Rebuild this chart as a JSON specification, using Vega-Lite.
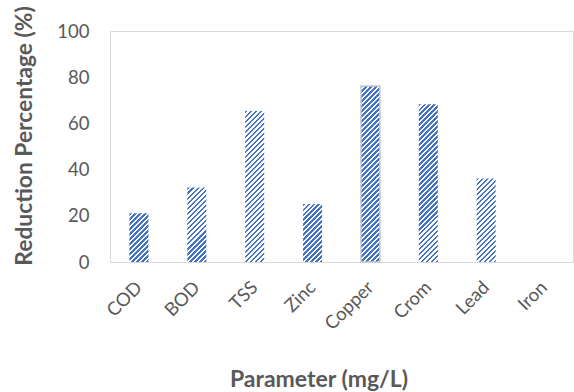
{
  "$schema": "https://vega.github.io/schema/vega-lite/v6.json",
  "autosize": {"type": "none"},
  "padding": {"left": 110, "top": 31, "right": 1, "bottom": 130},
  "width": 463,
  "height": 231,
  "background": "#ffffff",
  "config": {
    "view": {"stroke": "#d9d9d9", "strokeWidth": 1},
    "axis": {"labelFont": "Lato", "titleFont": "Lato", "labelColor": "#595959", "titleColor": "#595959", "grid": false, "domain": false, "ticks": false}
  },
  "data": {
    "values": [
      {"Parameter": "COD", "Reduction": 21.1},
      {"Parameter": "BOD", "Reduction": 32.2},
      {"Parameter": "TSS", "Reduction": 65.4},
      {"Parameter": "Zinc", "Reduction": 25.1},
      {"Parameter": "Copper", "Reduction": 76.2},
      {"Parameter": "Crom", "Reduction": 68.3},
      {"Parameter": "Lead", "Reduction": 36.2},
      {"Parameter": "Iron", "Reduction": 0}
    ]
  },
  "mark": {"type": "bar", "size": 19, "strokeWidth": 1.5},
  "encoding": {
    "x": {
      "field": "Parameter", "type": "nominal", "sort": null,
      "scale": {"paddingInner": 0, "paddingOuter": 0},
      "axis": {"title": "Parameter (mg/L)", "labelAngle": -45, "labelAlign": "right", "labelBaseline": "middle", "labelPadding": 22, "labelFontSize": 18.5, "titleFontSize": 23, "titleFontWeight": "bold", "titleX": 208.5, "titleY": 124, "titleBaseline": "alphabetic", "titleAlign": "center"}
    },
    "y": {
      "field": "Reduction", "type": "quantitative",
      "scale": {"domain": [0, 100], "nice": false},
      "axis": {"title": "Reduction Percentage (%)", "values": [0, 20, 40, 60, 80, 100], "labelPadding": 21, "labelFontSize": 18.5, "titleFontSize": 22.8, "titleFontWeight": "bold", "titleAngle": -90, "titleX": -79, "titleY": 104.5, "titleAlign": "center", "titleBaseline": "alphabetic"}
    },
    "stroke": {"condition": {"test": "datum.Parameter === 'Copper'", "value": "#c9c9c9"}, "value": null},
    "fill": {
      "condition": [
        {"test": "datum.Parameter === 'COD'", "value": {"gradient": "linear", "x1": 0, "y1": 0, "x2": 0.4727, "y2": 1.2067, "stops": [
          {"offset":0,"color":"#4472c4"},
          {"offset":0.037,"color":"#4472c4"},{"offset":0.037,"color":"#fff"},
          {"offset":0.0741,"color":"#fff"},{"offset":0.0741,"color":"#4472c4"},
          {"offset":0.1111,"color":"#4472c4"},{"offset":0.1111,"color":"#fff"},
          {"offset":0.1481,"color":"#fff"},{"offset":0.1481,"color":"#4472c4"},
          {"offset":0.1852,"color":"#4472c4"},{"offset":0.1852,"color":"#fff"},
          {"offset":0.2222,"color":"#fff"},{"offset":0.2222,"color":"#4472c4"},
          {"offset":0.2593,"color":"#4472c4"},{"offset":0.2593,"color":"#fff"},
          {"offset":0.2963,"color":"#fff"},{"offset":0.2963,"color":"#4472c4"},
          {"offset":0.3333,"color":"#4472c4"},{"offset":0.3333,"color":"#fff"},
          {"offset":0.3704,"color":"#fff"},{"offset":0.3704,"color":"#4472c4"},
          {"offset":0.4074,"color":"#4472c4"},{"offset":0.4074,"color":"#fff"},
          {"offset":0.4444,"color":"#fff"},{"offset":0.4444,"color":"#4472c4"},
          {"offset":0.4815,"color":"#4472c4"},{"offset":0.4815,"color":"#fff"},
          {"offset":0.5185,"color":"#fff"},{"offset":0.5185,"color":"#4472c4"},
          {"offset":0.5556,"color":"#4472c4"},{"offset":0.5556,"color":"#fff"},
          {"offset":0.5926,"color":"#fff"},{"offset":0.5926,"color":"#4472c4"},
          {"offset":0.6296,"color":"#4472c4"},{"offset":0.6296,"color":"#fff"},
          {"offset":0.6667,"color":"#fff"},{"offset":0.6667,"color":"#4472c4"},
          {"offset":0.7037,"color":"#4472c4"},{"offset":0.7037,"color":"#fff"},
          {"offset":0.7407,"color":"#fff"},{"offset":0.7407,"color":"#4472c4"},
          {"offset":0.7778,"color":"#4472c4"},{"offset":0.7778,"color":"#fff"},
          {"offset":0.8148,"color":"#fff"},{"offset":0.8148,"color":"#4472c4"},
          {"offset":0.8519,"color":"#4472c4"},{"offset":0.8519,"color":"#fff"},
          {"offset":0.8889,"color":"#fff"},{"offset":0.8889,"color":"#4472c4"},
          {"offset":0.9259,"color":"#4472c4"},{"offset":0.9259,"color":"#fff"},
          {"offset":0.963,"color":"#fff"},{"offset":0.963,"color":"#4472c4"},
          {"offset":1,"color":"#4472c4"}
        ]}},
        {"test": "datum.Parameter === 'BOD'", "value": {"gradient": "linear", "x1": 0, "y1": 0, "x2": 0.301, "y2": 1.1786, "stops": [
          {"offset":0,"color":"#4472c4"},
          {"offset":0.027,"color":"#4472c4"},{"offset":0.027,"color":"#fff"},
          {"offset":0.0541,"color":"#fff"},{"offset":0.0541,"color":"#4472c4"},
          {"offset":0.0811,"color":"#4472c4"},{"offset":0.0811,"color":"#fff"},
          {"offset":0.1081,"color":"#fff"},{"offset":0.1081,"color":"#4472c4"},
          {"offset":0.1351,"color":"#4472c4"},{"offset":0.1351,"color":"#fff"},
          {"offset":0.1622,"color":"#fff"},{"offset":0.1622,"color":"#4472c4"},
          {"offset":0.1892,"color":"#4472c4"},{"offset":0.1892,"color":"#fff"},
          {"offset":0.2162,"color":"#fff"},{"offset":0.2162,"color":"#4472c4"},
          {"offset":0.2432,"color":"#4472c4"},{"offset":0.2432,"color":"#fff"},
          {"offset":0.2703,"color":"#fff"},{"offset":0.2703,"color":"#4472c4"},
          {"offset":0.2973,"color":"#4472c4"},{"offset":0.2973,"color":"#fff"},
          {"offset":0.3243,"color":"#fff"},{"offset":0.3243,"color":"#4472c4"},
          {"offset":0.3514,"color":"#4472c4"},{"offset":0.3514,"color":"#fff"},
          {"offset":0.3784,"color":"#fff"},{"offset":0.3784,"color":"#4472c4"},
          {"offset":0.4054,"color":"#4472c4"},{"offset":0.4054,"color":"#fff"},
          {"offset":0.4324,"color":"#fff"},{"offset":0.4324,"color":"#4472c4"},
          {"offset":0.4595,"color":"#4472c4"},{"offset":0.4595,"color":"#fff"},
          {"offset":0.4865,"color":"#fff"},{"offset":0.4865,"color":"#4472c4"},
          {"offset":0.5135,"color":"#4472c4"},{"offset":0.5135,"color":"#fff"},
          {"offset":0.5405,"color":"#fff"},{"offset":0.5405,"color":"#4472c4"},
          {"offset":0.5676,"color":"#4472c4"},{"offset":0.5676,"color":"#fff"},
          {"offset":0.5946,"color":"#fff"},{"offset":0.5946,"color":"#4472c4"},
          {"offset":0.6216,"color":"#4472c4"},{"offset":0.6216,"color":"#fff"},
          {"offset":0.6486,"color":"#fff"},{"offset":0.6486,"color":"#4472c4"},
          {"offset":0.6757,"color":"#4472c4"},{"offset":0.6757,"color":"#fff"},
          {"offset":0.7027,"color":"#fff"},{"offset":0.7027,"color":"#4472c4"},
          {"offset":0.7297,"color":"#4472c4"},{"offset":0.7297,"color":"#fff"},
          {"offset":0.7568,"color":"#fff"},{"offset":0.7568,"color":"#4472c4"},
          {"offset":0.7838,"color":"#4472c4"},{"offset":0.7838,"color":"#fff"},
          {"offset":0.8108,"color":"#fff"},{"offset":0.8108,"color":"#4472c4"},
          {"offset":0.8378,"color":"#4472c4"},{"offset":0.8378,"color":"#fff"},
          {"offset":0.8649,"color":"#fff"},{"offset":0.8649,"color":"#4472c4"},
          {"offset":0.8919,"color":"#4472c4"},{"offset":0.8919,"color":"#fff"},
          {"offset":0.9189,"color":"#fff"},{"offset":0.9189,"color":"#4472c4"},
          {"offset":0.9459,"color":"#4472c4"},{"offset":0.9459,"color":"#fff"},
          {"offset":0.973,"color":"#fff"},{"offset":0.973,"color":"#4472c4"},
          {"offset":1,"color":"#4472c4"}
        ]}},
        {"test": "datum.Parameter === 'TSS'", "value": {"gradient": "linear", "x1": 0, "y1": 0, "x2": 0.1394, "y2": 1.1082, "stops": [
          {"offset":0,"color":"#4472c4"},
          {"offset":0.0147,"color":"#4472c4"},{"offset":0.0147,"color":"#fff"},
          {"offset":0.0294,"color":"#fff"},{"offset":0.0294,"color":"#4472c4"},
          {"offset":0.0441,"color":"#4472c4"},{"offset":0.0441,"color":"#fff"},
          {"offset":0.0588,"color":"#fff"},{"offset":0.0588,"color":"#4472c4"},
          {"offset":0.0735,"color":"#4472c4"},{"offset":0.0735,"color":"#fff"},
          {"offset":0.0882,"color":"#fff"},{"offset":0.0882,"color":"#4472c4"},
          {"offset":0.1029,"color":"#4472c4"},{"offset":0.1029,"color":"#fff"},
          {"offset":0.1176,"color":"#fff"},{"offset":0.1176,"color":"#4472c4"},
          {"offset":0.1324,"color":"#4472c4"},{"offset":0.1324,"color":"#fff"},
          {"offset":0.1471,"color":"#fff"},{"offset":0.1471,"color":"#4472c4"},
          {"offset":0.1618,"color":"#4472c4"},{"offset":0.1618,"color":"#fff"},
          {"offset":0.1765,"color":"#fff"},{"offset":0.1765,"color":"#4472c4"},
          {"offset":0.1912,"color":"#4472c4"},{"offset":0.1912,"color":"#fff"},
          {"offset":0.2059,"color":"#fff"},{"offset":0.2059,"color":"#4472c4"},
          {"offset":0.2206,"color":"#4472c4"},{"offset":0.2206,"color":"#fff"},
          {"offset":0.2353,"color":"#fff"},{"offset":0.2353,"color":"#4472c4"},
          {"offset":0.25,"color":"#4472c4"},{"offset":0.25,"color":"#fff"},
          {"offset":0.2647,"color":"#fff"},{"offset":0.2647,"color":"#4472c4"},
          {"offset":0.2794,"color":"#4472c4"},{"offset":0.2794,"color":"#fff"},
          {"offset":0.2941,"color":"#fff"},{"offset":0.2941,"color":"#4472c4"},
          {"offset":0.3088,"color":"#4472c4"},{"offset":0.3088,"color":"#fff"},
          {"offset":0.3235,"color":"#fff"},{"offset":0.3235,"color":"#4472c4"},
          {"offset":0.3382,"color":"#4472c4"},{"offset":0.3382,"color":"#fff"},
          {"offset":0.3529,"color":"#fff"},{"offset":0.3529,"color":"#4472c4"},
          {"offset":0.3676,"color":"#4472c4"},{"offset":0.3676,"color":"#fff"},
          {"offset":0.3824,"color":"#fff"},{"offset":0.3824,"color":"#4472c4"},
          {"offset":0.3971,"color":"#4472c4"},{"offset":0.3971,"color":"#fff"},
          {"offset":0.4118,"color":"#fff"},{"offset":0.4118,"color":"#4472c4"},
          {"offset":0.4265,"color":"#4472c4"},{"offset":0.4265,"color":"#fff"},
          {"offset":0.4412,"color":"#fff"},{"offset":0.4412,"color":"#4472c4"},
          {"offset":0.4559,"color":"#4472c4"},{"offset":0.4559,"color":"#fff"},
          {"offset":0.4706,"color":"#fff"},{"offset":0.4706,"color":"#4472c4"},
          {"offset":0.4853,"color":"#4472c4"},{"offset":0.4853,"color":"#fff"},
          {"offset":0.5,"color":"#fff"},{"offset":0.5,"color":"#4472c4"},
          {"offset":0.5147,"color":"#4472c4"},{"offset":0.5147,"color":"#fff"},
          {"offset":0.5294,"color":"#fff"},{"offset":0.5294,"color":"#4472c4"},
          {"offset":0.5441,"color":"#4472c4"},{"offset":0.5441,"color":"#fff"},
          {"offset":0.5588,"color":"#fff"},{"offset":0.5588,"color":"#4472c4"},
          {"offset":0.5735,"color":"#4472c4"},{"offset":0.5735,"color":"#fff"},
          {"offset":0.5882,"color":"#fff"},{"offset":0.5882,"color":"#4472c4"},
          {"offset":0.6029,"color":"#4472c4"},{"offset":0.6029,"color":"#fff"},
          {"offset":0.6176,"color":"#fff"},{"offset":0.6176,"color":"#4472c4"},
          {"offset":0.6324,"color":"#4472c4"},{"offset":0.6324,"color":"#fff"},
          {"offset":0.6471,"color":"#fff"},{"offset":0.6471,"color":"#4472c4"},
          {"offset":0.6618,"color":"#4472c4"},{"offset":0.6618,"color":"#fff"},
          {"offset":0.6765,"color":"#fff"},{"offset":0.6765,"color":"#4472c4"},
          {"offset":0.6912,"color":"#4472c4"},{"offset":0.6912,"color":"#fff"},
          {"offset":0.7059,"color":"#fff"},{"offset":0.7059,"color":"#4472c4"},
          {"offset":0.7206,"color":"#4472c4"},{"offset":0.7206,"color":"#fff"},
          {"offset":0.7353,"color":"#fff"},{"offset":0.7353,"color":"#4472c4"},
          {"offset":0.75,"color":"#4472c4"},{"offset":0.75,"color":"#fff"},
          {"offset":0.7647,"color":"#fff"},{"offset":0.7647,"color":"#4472c4"},
          {"offset":0.7794,"color":"#4472c4"},{"offset":0.7794,"color":"#fff"},
          {"offset":0.7941,"color":"#fff"},{"offset":0.7941,"color":"#4472c4"},
          {"offset":0.8088,"color":"#4472c4"},{"offset":0.8088,"color":"#fff"},
          {"offset":0.8235,"color":"#fff"},{"offset":0.8235,"color":"#4472c4"},
          {"offset":0.8382,"color":"#4472c4"},{"offset":0.8382,"color":"#fff"},
          {"offset":0.8529,"color":"#fff"},{"offset":0.8529,"color":"#4472c4"},
          {"offset":0.8676,"color":"#4472c4"},{"offset":0.8676,"color":"#fff"},
          {"offset":0.8824,"color":"#fff"},{"offset":0.8824,"color":"#4472c4"},
          {"offset":0.8971,"color":"#4472c4"},{"offset":0.8971,"color":"#fff"},
          {"offset":0.9118,"color":"#fff"},{"offset":0.9118,"color":"#4472c4"},
          {"offset":0.9265,"color":"#4472c4"},{"offset":0.9265,"color":"#fff"},
          {"offset":0.9412,"color":"#fff"},{"offset":0.9412,"color":"#4472c4"},
          {"offset":0.9559,"color":"#4472c4"},{"offset":0.9559,"color":"#fff"},
          {"offset":0.9706,"color":"#fff"},{"offset":0.9706,"color":"#4472c4"},
          {"offset":0.9853,"color":"#4472c4"},{"offset":0.9853,"color":"#fff"},
          {"offset":1,"color":"#fff"}
        ]}},
        {"test": "datum.Parameter === 'Zinc'", "value": {"gradient": "linear", "x1": 0, "y1": 0, "x2": 0.3928, "y2": 1.1989, "stops": [
          {"offset":0,"color":"#4472c4"},
          {"offset":0.0323,"color":"#4472c4"},{"offset":0.0323,"color":"#fff"},
          {"offset":0.0645,"color":"#fff"},{"offset":0.0645,"color":"#4472c4"},
          {"offset":0.0968,"color":"#4472c4"},{"offset":0.0968,"color":"#fff"},
          {"offset":0.129,"color":"#fff"},{"offset":0.129,"color":"#4472c4"},
          {"offset":0.1613,"color":"#4472c4"},{"offset":0.1613,"color":"#fff"},
          {"offset":0.1935,"color":"#fff"},{"offset":0.1935,"color":"#4472c4"},
          {"offset":0.2258,"color":"#4472c4"},{"offset":0.2258,"color":"#fff"},
          {"offset":0.2581,"color":"#fff"},{"offset":0.2581,"color":"#4472c4"},
          {"offset":0.2903,"color":"#4472c4"},{"offset":0.2903,"color":"#fff"},
          {"offset":0.3226,"color":"#fff"},{"offset":0.3226,"color":"#4472c4"},
          {"offset":0.3548,"color":"#4472c4"},{"offset":0.3548,"color":"#fff"},
          {"offset":0.3871,"color":"#fff"},{"offset":0.3871,"color":"#4472c4"},
          {"offset":0.4194,"color":"#4472c4"},{"offset":0.4194,"color":"#fff"},
          {"offset":0.4516,"color":"#fff"},{"offset":0.4516,"color":"#4472c4"},
          {"offset":0.4839,"color":"#4472c4"},{"offset":0.4839,"color":"#fff"},
          {"offset":0.5161,"color":"#fff"},{"offset":0.5161,"color":"#4472c4"},
          {"offset":0.5484,"color":"#4472c4"},{"offset":0.5484,"color":"#fff"},
          {"offset":0.5806,"color":"#fff"},{"offset":0.5806,"color":"#4472c4"},
          {"offset":0.6129,"color":"#4472c4"},{"offset":0.6129,"color":"#fff"},
          {"offset":0.6452,"color":"#fff"},{"offset":0.6452,"color":"#4472c4"},
          {"offset":0.6774,"color":"#4472c4"},{"offset":0.6774,"color":"#fff"},
          {"offset":0.7097,"color":"#fff"},{"offset":0.7097,"color":"#4472c4"},
          {"offset":0.7419,"color":"#4472c4"},{"offset":0.7419,"color":"#fff"},
          {"offset":0.7742,"color":"#fff"},{"offset":0.7742,"color":"#4472c4"},
          {"offset":0.8065,"color":"#4472c4"},{"offset":0.8065,"color":"#fff"},
          {"offset":0.8387,"color":"#fff"},{"offset":0.8387,"color":"#4472c4"},
          {"offset":0.871,"color":"#4472c4"},{"offset":0.871,"color":"#fff"},
          {"offset":0.9032,"color":"#fff"},{"offset":0.9032,"color":"#4472c4"},
          {"offset":0.9355,"color":"#4472c4"},{"offset":0.9355,"color":"#fff"},
          {"offset":0.9677,"color":"#fff"},{"offset":0.9677,"color":"#4472c4"},
          {"offset":1,"color":"#4472c4"}
        ]}},
        {"test": "datum.Parameter === 'Copper'", "value": {"gradient": "linear", "x1": 0, "y1": 0, "x2": 0.1182, "y2": 1.0952, "stops": [
          {"offset":0,"color":"#4472c4"},
          {"offset":0.0128,"color":"#4472c4"},{"offset":0.0128,"color":"#fff"},
          {"offset":0.0256,"color":"#fff"},{"offset":0.0256,"color":"#4472c4"},
          {"offset":0.0385,"color":"#4472c4"},{"offset":0.0385,"color":"#fff"},
          {"offset":0.0513,"color":"#fff"},{"offset":0.0513,"color":"#4472c4"},
          {"offset":0.0641,"color":"#4472c4"},{"offset":0.0641,"color":"#fff"},
          {"offset":0.0769,"color":"#fff"},{"offset":0.0769,"color":"#4472c4"},
          {"offset":0.0897,"color":"#4472c4"},{"offset":0.0897,"color":"#fff"},
          {"offset":0.1026,"color":"#fff"},{"offset":0.1026,"color":"#4472c4"},
          {"offset":0.1154,"color":"#4472c4"},{"offset":0.1154,"color":"#fff"},
          {"offset":0.1282,"color":"#fff"},{"offset":0.1282,"color":"#4472c4"},
          {"offset":0.141,"color":"#4472c4"},{"offset":0.141,"color":"#fff"},
          {"offset":0.1538,"color":"#fff"},{"offset":0.1538,"color":"#4472c4"},
          {"offset":0.1667,"color":"#4472c4"},{"offset":0.1667,"color":"#fff"},
          {"offset":0.1795,"color":"#fff"},{"offset":0.1795,"color":"#4472c4"},
          {"offset":0.1923,"color":"#4472c4"},{"offset":0.1923,"color":"#fff"},
          {"offset":0.2051,"color":"#fff"},{"offset":0.2051,"color":"#4472c4"},
          {"offset":0.2179,"color":"#4472c4"},{"offset":0.2179,"color":"#fff"},
          {"offset":0.2308,"color":"#fff"},{"offset":0.2308,"color":"#4472c4"},
          {"offset":0.2436,"color":"#4472c4"},{"offset":0.2436,"color":"#fff"},
          {"offset":0.2564,"color":"#fff"},{"offset":0.2564,"color":"#4472c4"},
          {"offset":0.2692,"color":"#4472c4"},{"offset":0.2692,"color":"#fff"},
          {"offset":0.2821,"color":"#fff"},{"offset":0.2821,"color":"#4472c4"},
          {"offset":0.2949,"color":"#4472c4"},{"offset":0.2949,"color":"#fff"},
          {"offset":0.3077,"color":"#fff"},{"offset":0.3077,"color":"#4472c4"},
          {"offset":0.3205,"color":"#4472c4"},{"offset":0.3205,"color":"#fff"},
          {"offset":0.3333,"color":"#fff"},{"offset":0.3333,"color":"#4472c4"},
          {"offset":0.3462,"color":"#4472c4"},{"offset":0.3462,"color":"#fff"},
          {"offset":0.359,"color":"#fff"},{"offset":0.359,"color":"#4472c4"},
          {"offset":0.3718,"color":"#4472c4"},{"offset":0.3718,"color":"#fff"},
          {"offset":0.3846,"color":"#fff"},{"offset":0.3846,"color":"#4472c4"},
          {"offset":0.3974,"color":"#4472c4"},{"offset":0.3974,"color":"#fff"},
          {"offset":0.4103,"color":"#fff"},{"offset":0.4103,"color":"#4472c4"},
          {"offset":0.4231,"color":"#4472c4"},{"offset":0.4231,"color":"#fff"},
          {"offset":0.4359,"color":"#fff"},{"offset":0.4359,"color":"#4472c4"},
          {"offset":0.4487,"color":"#4472c4"},{"offset":0.4487,"color":"#fff"},
          {"offset":0.4615,"color":"#fff"},{"offset":0.4615,"color":"#4472c4"},
          {"offset":0.4744,"color":"#4472c4"},{"offset":0.4744,"color":"#fff"},
          {"offset":0.4872,"color":"#fff"},{"offset":0.4872,"color":"#4472c4"},
          {"offset":0.5,"color":"#4472c4"},{"offset":0.5,"color":"#fff"},
          {"offset":0.5128,"color":"#fff"},{"offset":0.5128,"color":"#4472c4"},
          {"offset":0.5256,"color":"#4472c4"},{"offset":0.5256,"color":"#fff"},
          {"offset":0.5385,"color":"#fff"},{"offset":0.5385,"color":"#4472c4"},
          {"offset":0.5513,"color":"#4472c4"},{"offset":0.5513,"color":"#fff"},
          {"offset":0.5641,"color":"#fff"},{"offset":0.5641,"color":"#4472c4"},
          {"offset":0.5769,"color":"#4472c4"},{"offset":0.5769,"color":"#fff"},
          {"offset":0.5897,"color":"#fff"},{"offset":0.5897,"color":"#4472c4"},
          {"offset":0.6026,"color":"#4472c4"},{"offset":0.6026,"color":"#fff"},
          {"offset":0.6154,"color":"#fff"},{"offset":0.6154,"color":"#4472c4"},
          {"offset":0.6282,"color":"#4472c4"},{"offset":0.6282,"color":"#fff"},
          {"offset":0.641,"color":"#fff"},{"offset":0.641,"color":"#4472c4"},
          {"offset":0.6538,"color":"#4472c4"},{"offset":0.6538,"color":"#fff"},
          {"offset":0.6667,"color":"#fff"},{"offset":0.6667,"color":"#4472c4"},
          {"offset":0.6795,"color":"#4472c4"},{"offset":0.6795,"color":"#fff"},
          {"offset":0.6923,"color":"#fff"},{"offset":0.6923,"color":"#4472c4"},
          {"offset":0.7051,"color":"#4472c4"},{"offset":0.7051,"color":"#fff"},
          {"offset":0.7179,"color":"#fff"},{"offset":0.7179,"color":"#4472c4"},
          {"offset":0.7308,"color":"#4472c4"},{"offset":0.7308,"color":"#fff"},
          {"offset":0.7436,"color":"#fff"},{"offset":0.7436,"color":"#4472c4"},
          {"offset":0.7564,"color":"#4472c4"},{"offset":0.7564,"color":"#fff"},
          {"offset":0.7692,"color":"#fff"},{"offset":0.7692,"color":"#4472c4"},
          {"offset":0.7821,"color":"#4472c4"},{"offset":0.7821,"color":"#fff"},
          {"offset":0.7949,"color":"#fff"},{"offset":0.7949,"color":"#4472c4"},
          {"offset":0.8077,"color":"#4472c4"},{"offset":0.8077,"color":"#fff"},
          {"offset":0.8205,"color":"#fff"},{"offset":0.8205,"color":"#4472c4"},
          {"offset":0.8333,"color":"#4472c4"},{"offset":0.8333,"color":"#fff"},
          {"offset":0.8462,"color":"#fff"},{"offset":0.8462,"color":"#4472c4"},
          {"offset":0.859,"color":"#4472c4"},{"offset":0.859,"color":"#fff"},
          {"offset":0.8718,"color":"#fff"},{"offset":0.8718,"color":"#4472c4"},
          {"offset":0.8846,"color":"#4472c4"},{"offset":0.8846,"color":"#fff"},
          {"offset":0.8974,"color":"#fff"},{"offset":0.8974,"color":"#4472c4"},
          {"offset":0.9103,"color":"#4472c4"},{"offset":0.9103,"color":"#fff"},
          {"offset":0.9231,"color":"#fff"},{"offset":0.9231,"color":"#4472c4"},
          {"offset":0.9359,"color":"#4472c4"},{"offset":0.9359,"color":"#fff"},
          {"offset":0.9487,"color":"#fff"},{"offset":0.9487,"color":"#4472c4"},
          {"offset":0.9615,"color":"#4472c4"},{"offset":0.9615,"color":"#fff"},
          {"offset":0.9744,"color":"#fff"},{"offset":0.9744,"color":"#4472c4"},
          {"offset":0.9872,"color":"#4472c4"},{"offset":0.9872,"color":"#fff"},
          {"offset":1,"color":"#fff"}
        ]}},
        {"test": "datum.Parameter === 'Crom'", "value": {"gradient": "linear", "x1": 0, "y1": 0, "x2": 0.133, "y2": 1.1044, "stops": [
          {"offset":0,"color":"#4472c4"},
          {"offset":0.0141,"color":"#4472c4"},{"offset":0.0141,"color":"#fff"},
          {"offset":0.0282,"color":"#fff"},{"offset":0.0282,"color":"#4472c4"},
          {"offset":0.0423,"color":"#4472c4"},{"offset":0.0423,"color":"#fff"},
          {"offset":0.0563,"color":"#fff"},{"offset":0.0563,"color":"#4472c4"},
          {"offset":0.0704,"color":"#4472c4"},{"offset":0.0704,"color":"#fff"},
          {"offset":0.0845,"color":"#fff"},{"offset":0.0845,"color":"#4472c4"},
          {"offset":0.0986,"color":"#4472c4"},{"offset":0.0986,"color":"#fff"},
          {"offset":0.1127,"color":"#fff"},{"offset":0.1127,"color":"#4472c4"},
          {"offset":0.1268,"color":"#4472c4"},{"offset":0.1268,"color":"#fff"},
          {"offset":0.1408,"color":"#fff"},{"offset":0.1408,"color":"#4472c4"},
          {"offset":0.1549,"color":"#4472c4"},{"offset":0.1549,"color":"#fff"},
          {"offset":0.169,"color":"#fff"},{"offset":0.169,"color":"#4472c4"},
          {"offset":0.1831,"color":"#4472c4"},{"offset":0.1831,"color":"#fff"},
          {"offset":0.1972,"color":"#fff"},{"offset":0.1972,"color":"#4472c4"},
          {"offset":0.2113,"color":"#4472c4"},{"offset":0.2113,"color":"#fff"},
          {"offset":0.2254,"color":"#fff"},{"offset":0.2254,"color":"#4472c4"},
          {"offset":0.2394,"color":"#4472c4"},{"offset":0.2394,"color":"#fff"},
          {"offset":0.2535,"color":"#fff"},{"offset":0.2535,"color":"#4472c4"},
          {"offset":0.2676,"color":"#4472c4"},{"offset":0.2676,"color":"#fff"},
          {"offset":0.2817,"color":"#fff"},{"offset":0.2817,"color":"#4472c4"},
          {"offset":0.2958,"color":"#4472c4"},{"offset":0.2958,"color":"#fff"},
          {"offset":0.3099,"color":"#fff"},{"offset":0.3099,"color":"#4472c4"},
          {"offset":0.3239,"color":"#4472c4"},{"offset":0.3239,"color":"#fff"},
          {"offset":0.338,"color":"#fff"},{"offset":0.338,"color":"#4472c4"},
          {"offset":0.3521,"color":"#4472c4"},{"offset":0.3521,"color":"#fff"},
          {"offset":0.3662,"color":"#fff"},{"offset":0.3662,"color":"#4472c4"},
          {"offset":0.3803,"color":"#4472c4"},{"offset":0.3803,"color":"#fff"},
          {"offset":0.3944,"color":"#fff"},{"offset":0.3944,"color":"#4472c4"},
          {"offset":0.4085,"color":"#4472c4"},{"offset":0.4085,"color":"#fff"},
          {"offset":0.4225,"color":"#fff"},{"offset":0.4225,"color":"#4472c4"},
          {"offset":0.4366,"color":"#4472c4"},{"offset":0.4366,"color":"#fff"},
          {"offset":0.4507,"color":"#fff"},{"offset":0.4507,"color":"#4472c4"},
          {"offset":0.4648,"color":"#4472c4"},{"offset":0.4648,"color":"#fff"},
          {"offset":0.4789,"color":"#fff"},{"offset":0.4789,"color":"#4472c4"},
          {"offset":0.493,"color":"#4472c4"},{"offset":0.493,"color":"#fff"},
          {"offset":0.507,"color":"#fff"},{"offset":0.507,"color":"#4472c4"},
          {"offset":0.5211,"color":"#4472c4"},{"offset":0.5211,"color":"#fff"},
          {"offset":0.5352,"color":"#fff"},{"offset":0.5352,"color":"#4472c4"},
          {"offset":0.5493,"color":"#4472c4"},{"offset":0.5493,"color":"#fff"},
          {"offset":0.5634,"color":"#fff"},{"offset":0.5634,"color":"#4472c4"},
          {"offset":0.5775,"color":"#4472c4"},{"offset":0.5775,"color":"#fff"},
          {"offset":0.5915,"color":"#fff"},{"offset":0.5915,"color":"#4472c4"},
          {"offset":0.6056,"color":"#4472c4"},{"offset":0.6056,"color":"#fff"},
          {"offset":0.6197,"color":"#fff"},{"offset":0.6197,"color":"#4472c4"},
          {"offset":0.6338,"color":"#4472c4"},{"offset":0.6338,"color":"#fff"},
          {"offset":0.6479,"color":"#fff"},{"offset":0.6479,"color":"#4472c4"},
          {"offset":0.662,"color":"#4472c4"},{"offset":0.662,"color":"#fff"},
          {"offset":0.6761,"color":"#fff"},{"offset":0.6761,"color":"#4472c4"},
          {"offset":0.6901,"color":"#4472c4"},{"offset":0.6901,"color":"#fff"},
          {"offset":0.7042,"color":"#fff"},{"offset":0.7042,"color":"#4472c4"},
          {"offset":0.7183,"color":"#4472c4"},{"offset":0.7183,"color":"#fff"},
          {"offset":0.7324,"color":"#fff"},{"offset":0.7324,"color":"#4472c4"},
          {"offset":0.7465,"color":"#4472c4"},{"offset":0.7465,"color":"#fff"},
          {"offset":0.7606,"color":"#fff"},{"offset":0.7606,"color":"#4472c4"},
          {"offset":0.7746,"color":"#4472c4"},{"offset":0.7746,"color":"#fff"},
          {"offset":0.7887,"color":"#fff"},{"offset":0.7887,"color":"#4472c4"},
          {"offset":0.8028,"color":"#4472c4"},{"offset":0.8028,"color":"#fff"},
          {"offset":0.8169,"color":"#fff"},{"offset":0.8169,"color":"#4472c4"},
          {"offset":0.831,"color":"#4472c4"},{"offset":0.831,"color":"#fff"},
          {"offset":0.8451,"color":"#fff"},{"offset":0.8451,"color":"#4472c4"},
          {"offset":0.8592,"color":"#4472c4"},{"offset":0.8592,"color":"#fff"},
          {"offset":0.8732,"color":"#fff"},{"offset":0.8732,"color":"#4472c4"},
          {"offset":0.8873,"color":"#4472c4"},{"offset":0.8873,"color":"#fff"},
          {"offset":0.9014,"color":"#fff"},{"offset":0.9014,"color":"#4472c4"},
          {"offset":0.9155,"color":"#4472c4"},{"offset":0.9155,"color":"#fff"},
          {"offset":0.9296,"color":"#fff"},{"offset":0.9296,"color":"#4472c4"},
          {"offset":0.9437,"color":"#4472c4"},{"offset":0.9437,"color":"#fff"},
          {"offset":0.9577,"color":"#fff"},{"offset":0.9577,"color":"#4472c4"},
          {"offset":0.9718,"color":"#4472c4"},{"offset":0.9718,"color":"#fff"},
          {"offset":0.9859,"color":"#fff"},{"offset":0.9859,"color":"#4472c4"},
          {"offset":1,"color":"#4472c4"}
        ]}},
        {"test": "datum.Parameter === 'Lead'", "value": {"gradient": "linear", "x1": 0, "y1": 0, "x2": 0.2652, "y2": 1.167, "stops": [
          {"offset":0,"color":"#4472c4"},
          {"offset":0.0244,"color":"#4472c4"},{"offset":0.0244,"color":"#fff"},
          {"offset":0.0488,"color":"#fff"},{"offset":0.0488,"color":"#4472c4"},
          {"offset":0.0732,"color":"#4472c4"},{"offset":0.0732,"color":"#fff"},
          {"offset":0.0976,"color":"#fff"},{"offset":0.0976,"color":"#4472c4"},
          {"offset":0.122,"color":"#4472c4"},{"offset":0.122,"color":"#fff"},
          {"offset":0.1463,"color":"#fff"},{"offset":0.1463,"color":"#4472c4"},
          {"offset":0.1707,"color":"#4472c4"},{"offset":0.1707,"color":"#fff"},
          {"offset":0.1951,"color":"#fff"},{"offset":0.1951,"color":"#4472c4"},
          {"offset":0.2195,"color":"#4472c4"},{"offset":0.2195,"color":"#fff"},
          {"offset":0.2439,"color":"#fff"},{"offset":0.2439,"color":"#4472c4"},
          {"offset":0.2683,"color":"#4472c4"},{"offset":0.2683,"color":"#fff"},
          {"offset":0.2927,"color":"#fff"},{"offset":0.2927,"color":"#4472c4"},
          {"offset":0.3171,"color":"#4472c4"},{"offset":0.3171,"color":"#fff"},
          {"offset":0.3415,"color":"#fff"},{"offset":0.3415,"color":"#4472c4"},
          {"offset":0.3659,"color":"#4472c4"},{"offset":0.3659,"color":"#fff"},
          {"offset":0.3902,"color":"#fff"},{"offset":0.3902,"color":"#4472c4"},
          {"offset":0.4146,"color":"#4472c4"},{"offset":0.4146,"color":"#fff"},
          {"offset":0.439,"color":"#fff"},{"offset":0.439,"color":"#4472c4"},
          {"offset":0.4634,"color":"#4472c4"},{"offset":0.4634,"color":"#fff"},
          {"offset":0.4878,"color":"#fff"},{"offset":0.4878,"color":"#4472c4"},
          {"offset":0.5122,"color":"#4472c4"},{"offset":0.5122,"color":"#fff"},
          {"offset":0.5366,"color":"#fff"},{"offset":0.5366,"color":"#4472c4"},
          {"offset":0.561,"color":"#4472c4"},{"offset":0.561,"color":"#fff"},
          {"offset":0.5854,"color":"#fff"},{"offset":0.5854,"color":"#4472c4"},
          {"offset":0.6098,"color":"#4472c4"},{"offset":0.6098,"color":"#fff"},
          {"offset":0.6341,"color":"#fff"},{"offset":0.6341,"color":"#4472c4"},
          {"offset":0.6585,"color":"#4472c4"},{"offset":0.6585,"color":"#fff"},
          {"offset":0.6829,"color":"#fff"},{"offset":0.6829,"color":"#4472c4"},
          {"offset":0.7073,"color":"#4472c4"},{"offset":0.7073,"color":"#fff"},
          {"offset":0.7317,"color":"#fff"},{"offset":0.7317,"color":"#4472c4"},
          {"offset":0.7561,"color":"#4472c4"},{"offset":0.7561,"color":"#fff"},
          {"offset":0.7805,"color":"#fff"},{"offset":0.7805,"color":"#4472c4"},
          {"offset":0.8049,"color":"#4472c4"},{"offset":0.8049,"color":"#fff"},
          {"offset":0.8293,"color":"#fff"},{"offset":0.8293,"color":"#4472c4"},
          {"offset":0.8537,"color":"#4472c4"},{"offset":0.8537,"color":"#fff"},
          {"offset":0.878,"color":"#fff"},{"offset":0.878,"color":"#4472c4"},
          {"offset":0.9024,"color":"#4472c4"},{"offset":0.9024,"color":"#fff"},
          {"offset":0.9268,"color":"#fff"},{"offset":0.9268,"color":"#4472c4"},
          {"offset":0.9512,"color":"#4472c4"},{"offset":0.9512,"color":"#fff"},
          {"offset":0.9756,"color":"#fff"},{"offset":0.9756,"color":"#4472c4"},
          {"offset":1,"color":"#4472c4"}
        ]}}
      ],
      "value": "#4472c4"
    }
  }
}
